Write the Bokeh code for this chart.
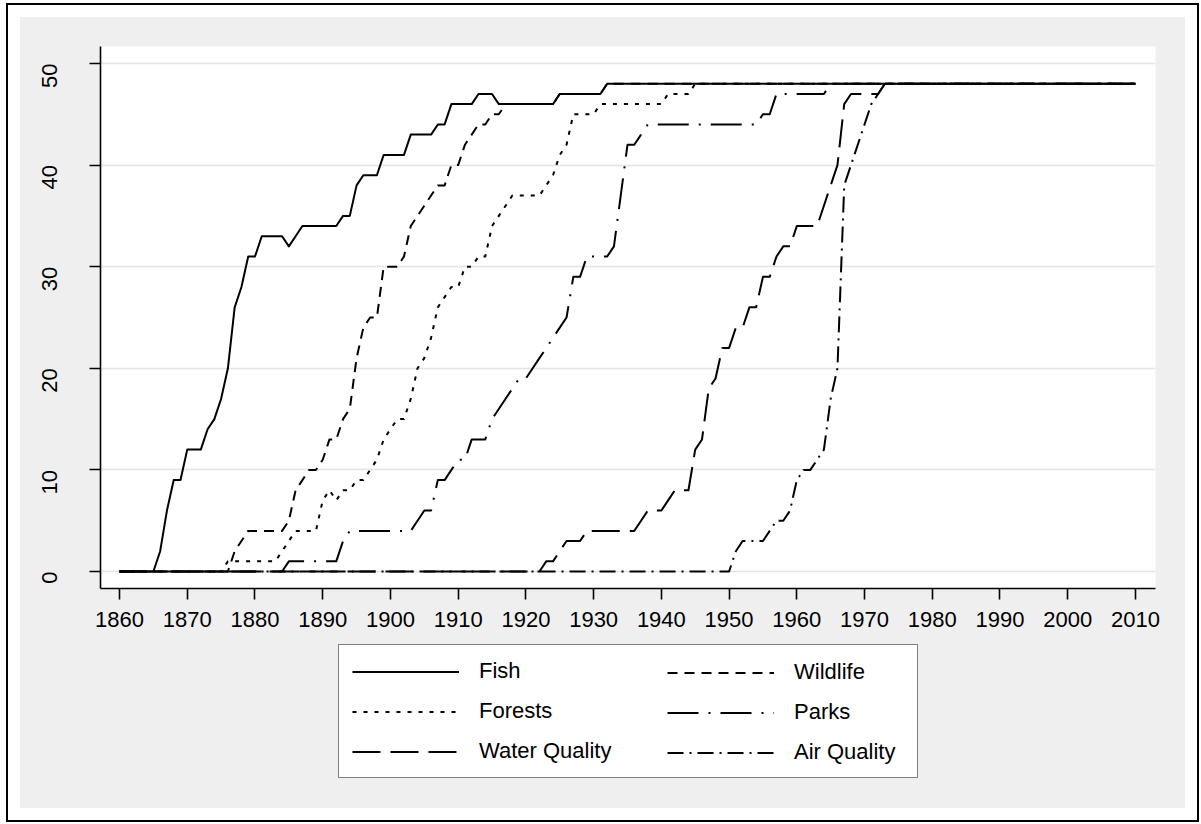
import math
from bokeh.plotting import figure
from bokeh.layouts import column
from bokeh.models import Range1d, FixedTicker, Legend, LegendItem
from bokeh.embed import file_html
from bokeh.resources import INLINE

# ---------------- data (number of states, by year) ----------------
years = list(range(1860, 2011))

fish = (
    [0, 0, 0, 0, 0, 0, 2, 6, 9, 9] +                 # 1860s
    [12, 12, 12, 14, 15, 17, 20, 26, 28, 31] +       # 1870s
    [31, 33, 33, 33, 33, 32, 33, 34, 34, 34] +       # 1880s
    [34, 34, 34, 35, 35, 38, 39, 39, 39, 41] +       # 1890s
    [41, 41, 41, 43, 43, 43, 43, 44, 44, 46] +       # 1900s
    [46, 46, 46, 47, 47, 47, 46, 46, 46, 46] +       # 1910s
    [46, 46, 46, 46, 46, 47, 47, 47, 47, 47] +       # 1920s
    [47, 47, 48, 48, 48, 48, 48, 48, 48, 48] +       # 1930s
    [48] * 71                                        # 1940-2010
)

wildlife = (
    [0, 0, 0, 0, 0, 0, 0, 0, 0, 0] +
    [0, 0, 0, 0, 0, 0, 0, 2, 3, 4] +
    [4, 4, 4, 4, 4, 5, 8, 9, 10, 10] +
    [11, 13, 13, 15, 16, 21, 24, 25, 25, 30] +
    [30, 30, 31, 34, 35, 36, 37, 38, 38, 40] +
    [40, 42, 43, 44, 44, 45, 45, 46, 46, 46] +
    [46, 46, 46, 46, 46, 47, 47, 47, 47, 47] +
    [47, 47, 48, 48, 48, 48, 48, 48, 48, 48] +
    [48] * 71
)

forests = (
    [0, 0, 0, 0, 0, 0, 0, 0, 0, 0] +
    [0, 0, 0, 0, 0, 0, 1, 1, 1, 1] +
    [1, 1, 1, 1, 2, 3, 4, 4, 4, 4] +
    [7, 8, 7, 8, 8, 9, 9, 10, 11, 13] +
    [14, 15, 15, 17, 20, 21, 23, 26, 27, 28] +
    [28, 30, 30, 31, 31, 34, 35, 36, 37, 37] +
    [37, 37, 37, 38, 39, 41, 42, 45, 45, 45] +
    [45, 46, 46, 46, 46, 46, 46, 46, 46, 46] +
    [46, 47, 47, 47, 47, 48, 48, 48, 48, 48] +
    [48] * 61
)

parks = (
    [0] * 20 +
    [0, 0, 0, 0, 0, 1, 1, 1, 1, 1] +
    [1, 1, 1, 3, 4, 4, 4, 4, 4, 4] +
    [4, 4, 4, 4, 5, 6, 6, 9, 9, 10] +
    [11, 11, 13, 13, 13, 15, 16, 17, 18, 19] +
    [19, 20, 21, 22, 23, 24, 25, 29, 29, 31] +
    [31, 31, 31, 32, 37, 42, 42, 43, 44, 44] +
    [44, 44, 44, 44, 44, 44, 44, 44, 44, 44] +
    [44, 44, 44, 44, 44, 45, 45, 47, 47, 47] +
    [47, 47, 47, 47, 47, 48, 48, 48, 48, 48] +
    [48] * 41
)

water_quality = (
    [0] * 60 +
    [0, 0, 0, 1, 1, 2, 3, 3, 3, 4] +
    [4, 4, 4, 4, 4, 4, 4, 5, 6, 6] +
    [6, 7, 8, 8, 8, 12, 13, 18, 19, 22] +
    [22, 24, 24, 26, 26, 29, 29, 31, 32, 32] +
    [34, 34, 34, 34, 36, 38, 40, 46, 47, 47] +
    [47, 47, 47, 48, 48, 48, 48, 48, 48, 48] +
    [48] * 41
)

air_quality = (
    [0] * 90 +
    [0, 2, 3, 3, 3, 3, 4, 5, 5, 6] +
    [9, 10, 10, 11, 12, 17, 20, 38, 40, 42] +
    [44, 46, 47, 48, 48, 48, 48, 48, 48, 48] +
    [48] * 41
)

series_names = ["Fish", "Wildlife", "Forests", "Parks", "Water Quality", "Air Quality"]
series_values = [fish, wildlife, forests, parks, water_quality, air_quality]
series_dash = ["solid", "10 7", "4 7", "31 10 2 10", "28 10", "16 6 2 6"]

x_ticks = list(range(1860, 2011, 10))
y_ticks = [0, 10, 20, 30, 40, 50]

FONT = "Liberation Sans"
FS = "22px"
PANEL = "#efefef"

# ---------------- main plot ----------------
p = figure(
    width=1165, height=623,
    output_backend="svg", toolbar_location=None,
    x_range=Range1d(1857.19, 2012.96), y_range=Range1d(-1.67, 51.67),
    min_border_left=80, min_border_right=30, min_border_top=29, min_border_bottom=52,
)
p.border_fill_color = PANEL
p.background_fill_color = "white"
p.outline_line_color = None

for ax in (p.xaxis[0], p.yaxis[0]):
    ax.axis_line_color = "black"
    ax.axis_line_width = 1.6
    ax.major_tick_line_color = "black"
    ax.major_tick_line_width = 1.6
    ax.major_tick_out = 11
    ax.major_tick_in = 0
    ax.minor_tick_out = 0
    ax.minor_tick_in = 0
    ax.major_label_text_font = FONT
    ax.major_label_text_font_size = FS
    ax.major_label_text_color = "black"

p.xaxis.ticker = FixedTicker(ticks=x_ticks)
p.yaxis.ticker = FixedTicker(ticks=y_ticks)
p.xaxis.major_label_standoff = 12
p.yaxis.major_label_standoff = 40
p.yaxis.major_label_orientation = math.pi / 2

p.xgrid.visible = False
p.ygrid.grid_line_color = "#e4e4e4"
p.ygrid.grid_line_width = 1.6
p.ygrid.ticker = FixedTicker(ticks=y_ticks)

for name, vals, dash in zip(series_names, series_values, series_dash):
    p.line(years, vals, line_color="black", line_width=2,
           line_dash=dash, line_join="round")

# ---------------- legend strip under the plot ----------------
lg = figure(
    width=1165, height=168,
    output_backend="svg", toolbar_location=None,
    x_range=Range1d(0, 1), y_range=Range1d(0, 1),
    x_axis_type=None, y_axis_type=None,
    min_border_left=0, min_border_right=0, min_border_top=0, min_border_bottom=0,
)
lg.border_fill_color = PANEL
lg.background_fill_color = PANEL
lg.outline_line_color = None
lg.grid.visible = False

# key renderers carry the same series (they fall outside this strip's ranges,
# so only their legend keys are seen)
keys = {}
for name, vals, dash in zip(series_names, series_values, series_dash):
    keys[name] = lg.line(years, vals, line_color="black", line_width=2,
                         line_dash=dash, line_join="round")

PAD = 13
LEG_X0 = 238      # left edge of legend box, from the left of the strip's frame
LEG_X1 = 554      # left edge of second column
LEG_Y = 30        # bottom of legend box, up from the bottom of the strip
common = dict(
    orientation="vertical",
    label_text_font=FONT, label_text_font_size=FS, label_text_color="black",
    glyph_width=107, glyph_height=25, label_height=25,
    label_standoff=20, padding=PAD, spacing=14, margin=0,
)
leg_a = Legend(
    items=[LegendItem(label=n, renderers=[keys[n]]) for n in ["Fish", "Forests", "Water Quality"]],
    location=(LEG_X0, LEG_Y),
    border_line_color="black", border_line_width=1.3,
    background_fill_color="white", background_fill_alpha=1.0,
    label_width=425,
    **common,
)
leg_b = Legend(
    items=[LegendItem(label=n, renderers=[keys[n]]) for n in ["Wildlife", "Parks", "Air Quality"]],
    location=(LEG_X1, LEG_Y),
    border_line_alpha=0.0, background_fill_alpha=0.0,
    **common,
)
lg.add_layout(leg_a, "center")
lg.add_layout(leg_b, "center")

page = column(p, lg, styles={"margin-left": "20px", "margin-top": "17px",
                             "background-color": PANEL,
                             "outline": "2px solid black", "outline-offset": "12px"})

open("out.html", "w").write(file_html(page, INLINE))
